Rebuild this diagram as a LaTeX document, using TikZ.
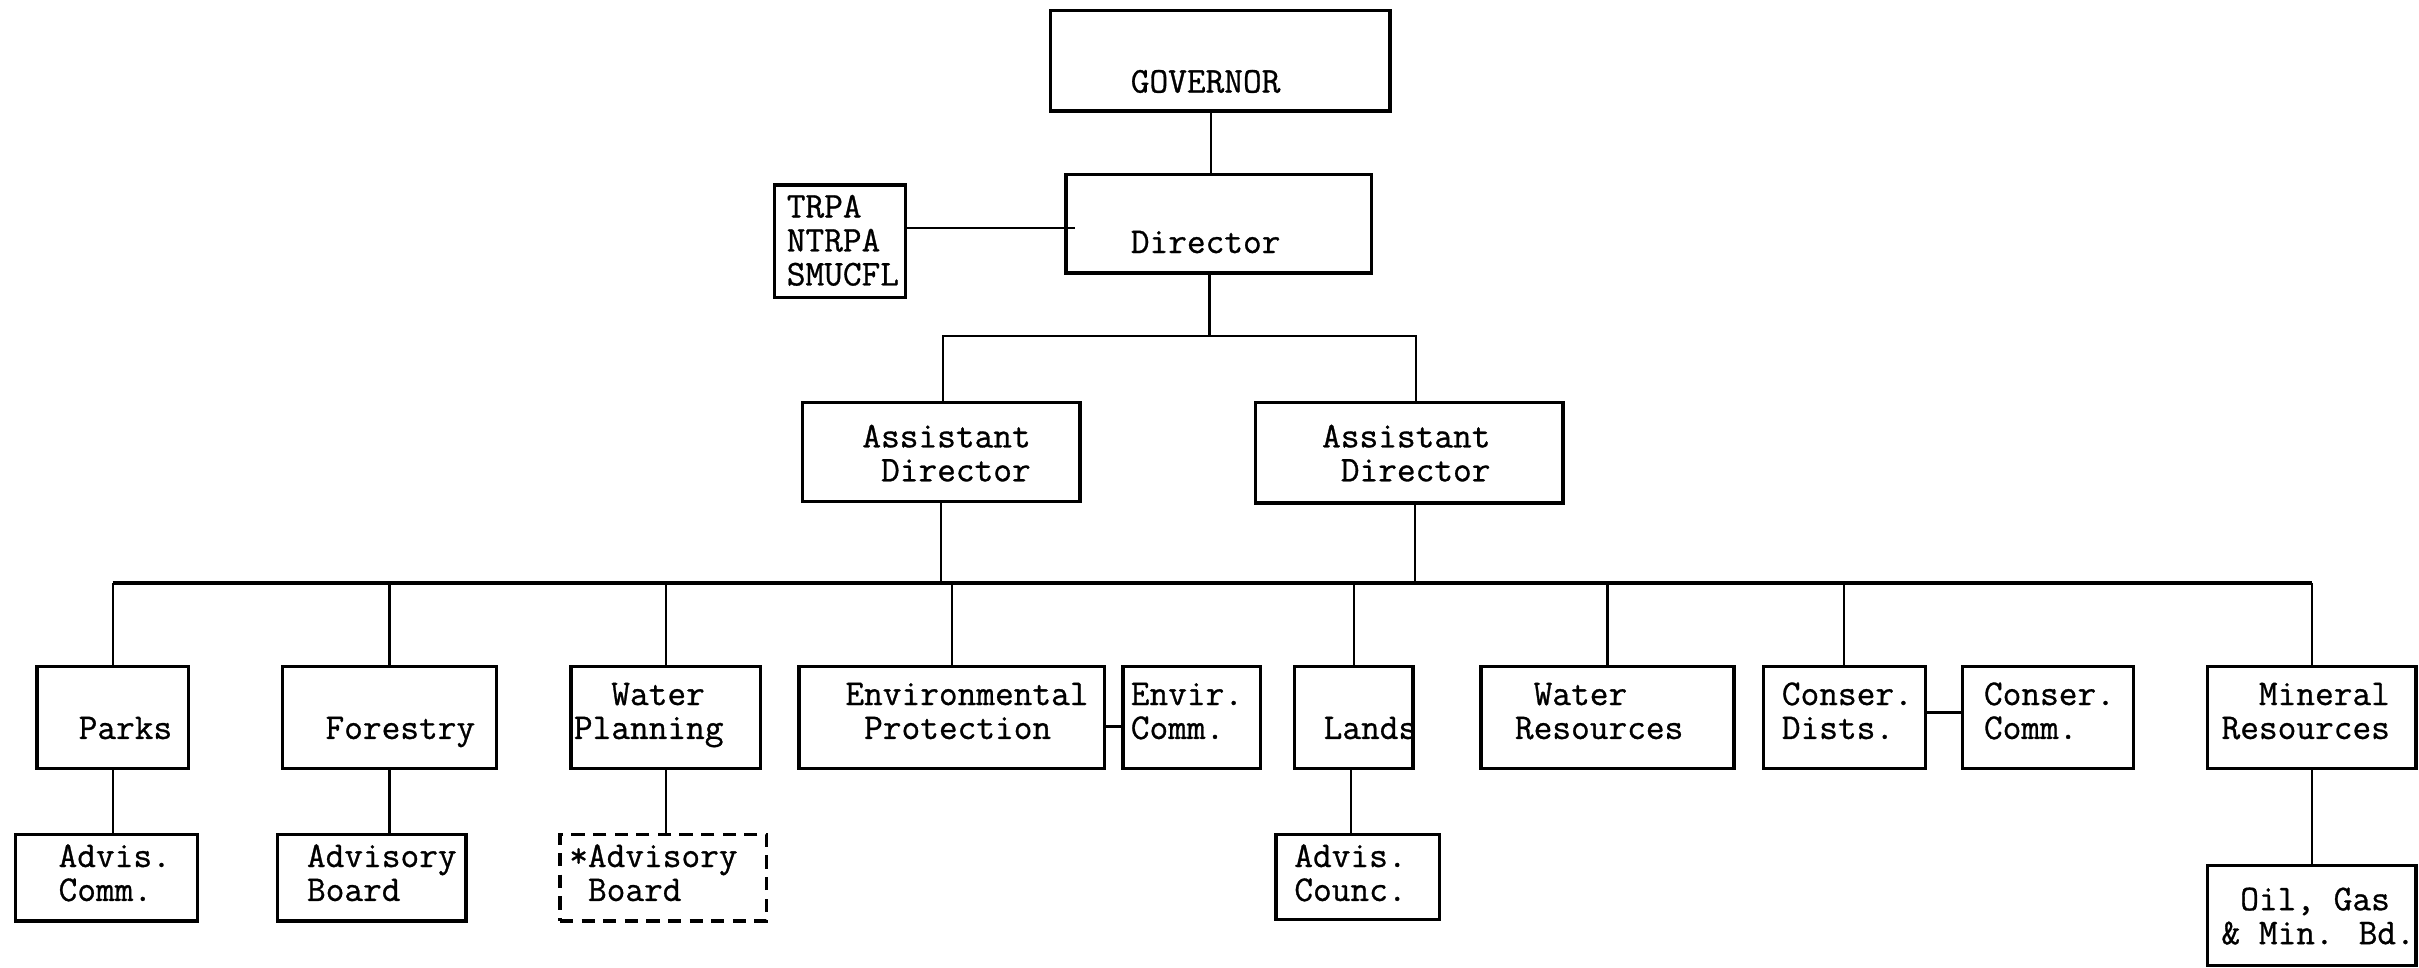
\documentclass[tikz,border=0pt]{standalone}
\usepackage{fontspec}
\newfontfamily\typew[RawFeature={embolden=0.8}]{Latin Modern Mono}
\begin{document}
\begin{tikzpicture}[x=0.5pt,y=-0.5pt,
  box/.style={draw,line width=1.1pt,inner sep=0pt,outer sep=0pt,rectangle},
  dbox/.style={box,dash pattern=on 4.3pt off 2.7pt},
  txt/.style={font=\typew\fontsize{11.77}{11}\selectfont,inner sep=0pt,outer sep=0pt,anchor=base west,align=left},
  link/.style={line width=0.7pt},
  blink/.style={line width=1.1pt}]
\useasboundingbox (0,0) rectangle (1568,627);
\newcommand\mkbox[6][box]{\node[#1,minimum width={(#5-#3)*0.5pt},minimum height={(#6-#4)*0.5pt}] (#2) at ({(#3+#5)/2},{(#4+#6)/2}) {};}
\newcommand\chs{\hphantom{x}}
% boxes
\mkbox{gov}{681}{7}{901}{72}
\mkbox{dir}{691}{113}{889}{177}
\mkbox{trpa}{502}{120}{587}{193}
\mkbox{aL}{520}{261}{700}{325}
\mkbox{aR}{814}{261}{1013}{326}
\mkbox{parks}{24}{432}{122}{498}
\mkbox{forest}{183}{432}{322}{498}
\mkbox{wplan}{370}{432}{493}{498}
\mkbox{envp}{518}{432}{716}{498}
\mkbox{envc}{728}{432}{817}{498}
\mkbox{lands}{839}{432}{916}{498}
\mkbox{wres}{960}{432}{1124}{498}
\mkbox{cdist}{1143}{432}{1248}{498}
\mkbox{ccomm}{1272}{432}{1383}{498}
\mkbox{miner}{1431}{432}{1566}{498}
\mkbox{advc}{10}{541}{128}{597}
\mkbox{advb}{180}{541}{302}{597}
\mkbox[dbox]{sadvb}{363}{541}{497}{597}
\mkbox{advn}{827}{541}{933}{596}
\mkbox{oil}{1431}{561}{1566}{626}
% texts (anchor = baseline of the last line)
\node[txt] (tgov) at (733,60) {GOVERNOR};
\node[txt] (tdir) at (733,164) {Director};
\node[txt] (ttrpa) at (510,185) {TRPA\\NTRPA\\SMUCFL};
\node[txt] (taL) at (559,312) {Assistant\\\chs Director};
\node[txt] (taR) at (857,312) {Assistant\\\chs Director};
\node[txt] (tparks) at (51,479) {Parks};
\node[txt] (tforest) at (211,479) {Forestry};
\node[txt] (twplan) at (372,479) {\chs\chs Water\\Planning};
\node[txt] (tenvp) at (548,479) {Environmental\\\chs Protection};
\node[txt] (tenvc) at (733,479) {Envir.\\Comm.};
\node[txt] (tlands) at (858,479) {Lands};
\node[txt] (twres) at (982,479) {\chs Water\\Resources};
\node[txt] (tcdist) at (1155,479) {Conser.\\Dists.};
\node[txt] (tccomm) at (1286,479) {Conser.\\Comm.};
\node[txt] (tminer) at (1440,479) {\chs\chs Mineral\\Resources};
\node[txt] (tadvc) at (38,584) {Advis.\\Comm.};
\node[txt] (tadvb) at (199,584) {Advisory\\Board};
\node[txt] (tsadvb) at (369,584) {*Advisory\\\chs Board};
\node[txt] (tadvn) at (839,584) {Advis.\\Counc.};
\node[txt] (toil) at (1440,612) {\chs Oil, Gas\\\&\chs Min. Bd.};
% connectors
\coordinate (j1) at (784,218);
\coordinate (bL) at (611,218);
\coordinate (bR) at (918,218);
\coordinate (bus) at (0,378);
\draw[link] ([xshift=-3pt]gov.south) -- ([xshift=-3pt]gov.south |- dir.north);
\draw[link] ([yshift=4.25pt]trpa.east) -- ([yshift=4.25pt,xshift=3pt]trpa.east -| dir.west);
\draw[link] (dir.south -| j1) -- (j1);
\draw[link] (aL.north -| bL) -- (bL) -- (bR) -- (aR.north -| bR);
\draw[link] (aL.south) -- (aL.south |- bus);
\draw[link] ([xshift=1.75pt]aR.south) -- ([xshift=1.75pt]aR.south |- bus);
\draw[blink] (parks.north |- bus) -- (miner.north |- bus);
\foreach \n in {parks,forest,wplan,envp,lands,wres,cdist,miner}
  \draw[link] (\n.north) -- (\n.north |- bus);
\draw[link] (parks.south) -- (parks.south |- advc.north);
\draw[link] (forest.south) -- (forest.south |- advb.north);
\draw[link] (wplan.south) -- (wplan.south |- sadvb.north);
\draw[link] ([xshift=-1pt]lands.south) -- ([xshift=-1pt]lands.south |- advn.north);
\draw[link] (miner.south) -- (miner.south |- oil.north);
\draw[blink] ([yshift=-3pt]envp.east) -- ([yshift=-3pt]envp.east -| envc.west);
\draw[blink] ([yshift=1.5pt]cdist.east) -- ([yshift=1.5pt]cdist.east -| ccomm.west);
\end{tikzpicture}
\end{document}
